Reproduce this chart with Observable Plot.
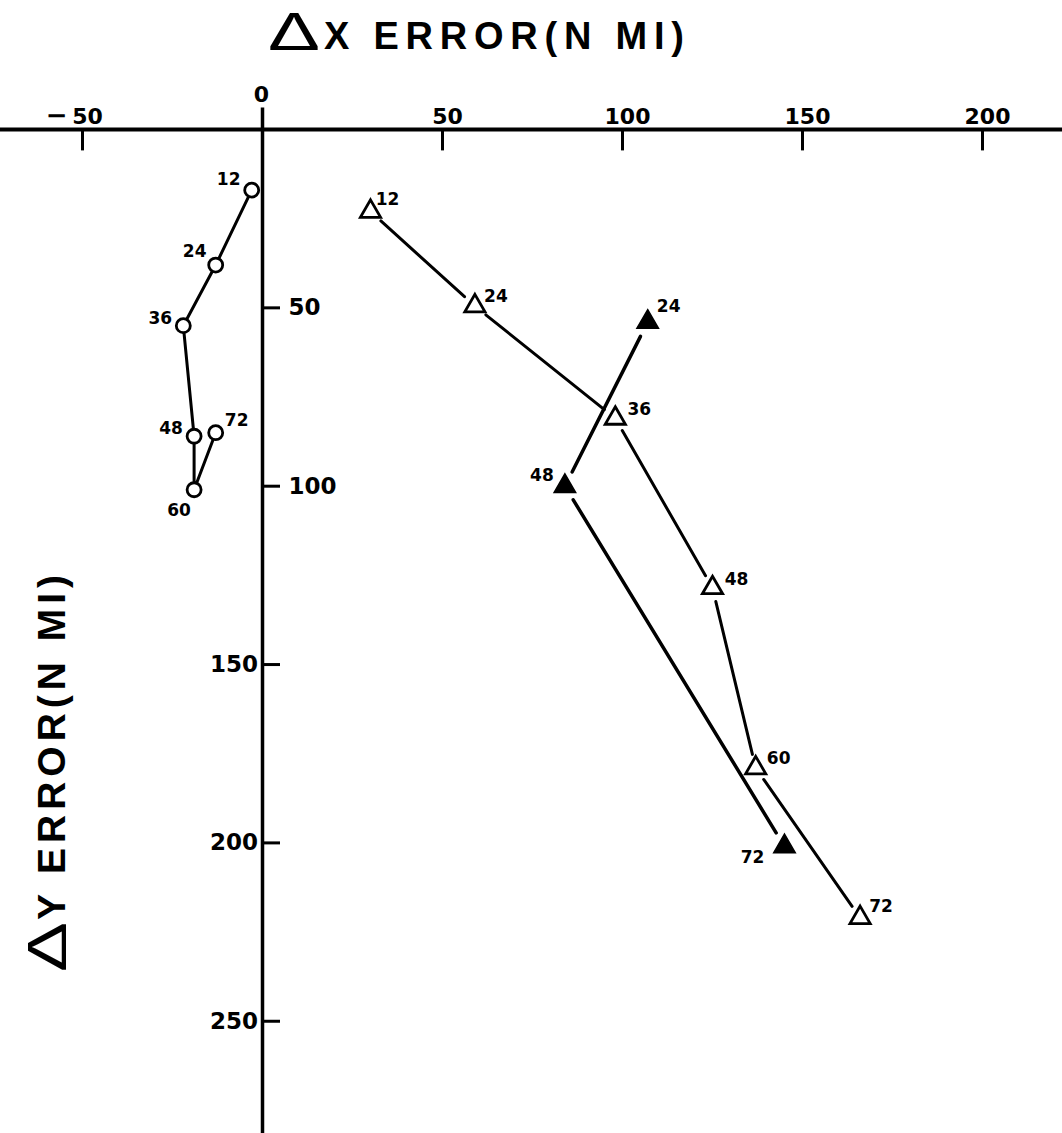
<!DOCTYPE html>
<html><head><meta charset="utf-8">
<script src="https://cdn.jsdelivr.net/npm/d3@7"></script>
<script src="https://cdn.jsdelivr.net/npm/@observablehq/plot@0.6"></script>
<style>
body{margin:0;background:#fff;}
#wrap{position:relative;width:1062px;height:1133px;overflow:hidden;color:#000;}
.lbl{position:absolute;white-space:nowrap;line-height:1;}
.delta{font-family:"Liberation Sans",Arial,sans-serif;font-weight:normal;display:inline-block;transform-origin:0 0;}
.word{font-family:"Liberation Sans",Arial,sans-serif;font-weight:bold;}
#title{position:absolute;left:0;top:0;width:1062px;height:80px;}
#ylab{position:absolute;left:0;top:0;width:420px;height:70px;transform-origin:0 0;}
#chart{position:absolute;left:0;top:80px;}
</style>
</head><body>
<div id="wrap">
<div id="chart"></div>
<div id="title"><span class="lbl delta" id="tD">Δ</span><span class="lbl word" id="tW">X ERROR(N MI)</span></div>
<div id="ylab"><span class="lbl delta" id="yD">Δ</span><span class="lbl word" id="yW">Y ERROR(N MI)</span></div>
</div>
<script>
// ---- data ----
const xTicks = [-50, 0, 50, 100, 150, 200];
const yTicks = [50, 100, 150, 200, 250];

// open circles
const circHours = [12, 24, 36, 48, 60, 72];
const circX = [-3, -13, -22, -19, -19, -13];
const circY = [17, 38, 55, 86, 101, 85];

// open triangles
const openHours = [12, 24, 36, 48, 60, 72];
const openX = [30, 59, 98, 125, 137, 166];
const openY = [23, 49.5, 81, 128.5, 179, 221];

// filled triangles
const fillHours = [24, 48, 72];
const fillX = [107, 84, 145];
const fillY = [54, 100, 201];

// label offsets (pixels) – styling only
const circOff = [[-23,-11],[-21,-13],[-23,-7],[-23,-8],[-15,21],[21,-12]];
const openOff = [[17,-12],[21,-10],[24,-9],[24,-8],[23,-9],[21,-11]];
const fillOff = [[21,-16],[-23,-11],[-32,11]];

const circ = circHours.map((h,i)=>({h, x:circX[i], y:circY[i]}));
const open = openHours.map((h,i)=>({h, x:openX[i], y:openY[i]}));
const filled = fillHours.map((h,i)=>({h, x:fillX[i], y:fillY[i]}));
const segs = arr => d3.pairs(arr).map(([a,b])=>({x1:a.x,y1:a.y,x2:b.x,y2:b.y}));

const W = 1062, H = 1053, mt = 49;
const pxPerX = 3.6, pxPerY = 3.567;
const xMin = -262/pxPerX, xMax = (W-262)/pxPerX;
const yMax = (H-mt)/pxPerY;

const font = "DejaVu Sans, Verdana, sans-serif";
const labelMarks = (arr, offs, size) => arr.map((d,i)=>Plot.text([d], {
  x:"x", y:"y", text:d=>String(d.h), dx:offs[i][0], dy:offs[i][1],
  fontSize:size, fontWeight:"bold", fill:"black"
}));

const chart = Plot.plot({
  width: W, height: H,
  marginTop: mt, marginBottom: 0, marginLeft: 0, marginRight: 0,
  x: {domain:[xMin, xMax], axis:null},
  y: {domain:[0, yMax], reverse:true, axis:null},
  style: {fontFamily: font, background:"white", overflow:"visible"},
  marks: [
    // axes
    Plot.ruleY([0], {stroke:"black", strokeWidth:3.8}),
    Plot.ruleX([0], {y1:-6, y2:yMax, stroke:"black", strokeWidth:3.5}),
    Plot.ruleX(xTicks.filter(d=>d!==0), {x:d=>d, y1:0, y2:6, stroke:"black", strokeWidth:3}),
    Plot.text(xTicks.filter(d=>d!==0), {x:d=>d, y:0, dx:5, dy:-13, text:d=>String(Math.abs(d)),
      fontSize:22, fontWeight:"bold", fill:"black", style:"letter-spacing:6px"}),
    Plot.text(xTicks.filter(d=>d<0), {x:d=>d, y:0, dx:-15, dy:-14, text:()=>"\u2212", textAnchor:"end",
      fontSize:26, fontWeight:"bold", fill:"black"}),
    Plot.text(xTicks.filter(d=>d===0), {x:d=>d, y:0, dx:-1, dy:-35, text:d=>String(d),
      fontSize:22, fontWeight:"bold", fill:"black"}),
    Plot.ruleY(yTicks, {y:d=>d, x1:0, x2:5, stroke:"black", strokeWidth:3}),
    Plot.text(yTicks.filter(d=>d<=100), {x:0, y:d=>d, dx:26, text:d=>String(d), textAnchor:"start",
      fontSize:23, fontWeight:"bold", fill:"black", style:"letter-spacing:5.5px"}),
    Plot.text(yTicks.filter(d=>d>100), {x:0, y:d=>d, dx:-4.5, text:d=>String(d), textAnchor:"end",
      fontSize:23, fontWeight:"bold", fill:"black", style:"letter-spacing:5.5px"}),
    // connecting lines
    Plot.line(circ, {x:"x", y:"y", stroke:"black", strokeWidth:3}),
    Plot.arrow(segs(open), {x1:"x1", y1:"y1", x2:"x2", y2:"y2", headLength:0, inset:14, stroke:"black", strokeWidth:3}),
    Plot.arrow(segs(filled), {x1:"x1", y1:"y1", x2:"x2", y2:"y2", headLength:0, inset:16, stroke:"black", strokeWidth:3.5}),
    // markers
    Plot.dot(circ, {x:"x", y:"y", r:7, fill:"white", stroke:"black", strokeWidth:2.8}),
    Plot.dot(open, {x:"x", y:"y", symbol:"triangle", r:7.5, fill:"white", stroke:"black", strokeWidth:2.8}),
    Plot.dot(filled, {x:"x", y:"y", symbol:"triangle", r:8, fill:"black", stroke:"black", strokeWidth:1.5}),
    // labels
    ...labelMarks(circ, circOff, 17),
    ...labelMarks(open, openOff, 17),
    ...labelMarks(filled, fillOff, 17)
  ]
});
document.getElementById("chart").appendChild(chart);

// ---- title & y label layout (fit to measured extents of the reference) ----
function placeDelta(el, left, baseline, fs, width){
  el.style.fontSize = fs + "px";
  el.style.left = left + "px";
  el.style.top = (baseline - 0.8465*fs) + "px";
  const w = el.getBoundingClientRect().width;
  el.style.transform = `scaleX(${width / w})`;
}
function placeWord(el, left, baseline, fs, width){
  el.style.fontSize = fs + "px";
  el.style.left = left + "px";
  el.style.top = (baseline - 0.8465*fs) + "px";
  el.style.letterSpacing = "0px";
  const w = el.getBoundingClientRect().width;
  const n = el.textContent.length;
  el.style.letterSpacing = ((width - w) / (n - 1)) + "px";
}
placeDelta(document.getElementById("tD"), 268, 50, 54, 52);
placeWord(document.getElementById("tW"), 324, 49, 38, 360);

placeDelta(document.getElementById("yD"), 0, 51, 56, 50);
placeWord(document.getElementById("yW"), 52, 50, 39, 345);
// rotate y label: baseline (v=50) -> x=65, start (u=0) -> y=972
document.getElementById("ylab").style.transform = `translate(${65-50}px, 972px) rotate(-90deg)`;
</script>
</body></html>
